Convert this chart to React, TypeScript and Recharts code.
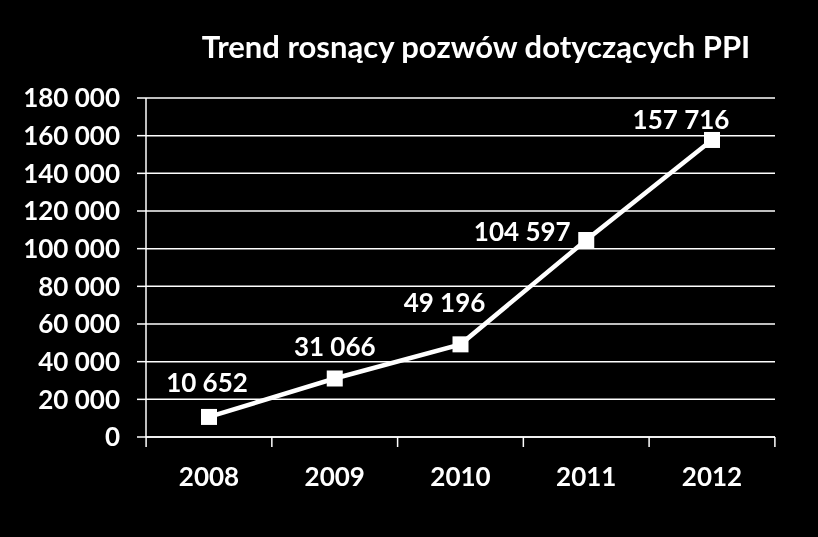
import React from "react";
import { LineChart, Line, XAxis, YAxis, CartesianGrid, LabelList } from "recharts";

const years = ["2008", "2009", "2010", "2011", "2012"];
const lawsuits = [10652, 31066, 49196, 104597, 157716];
const yTicks = [0, 20000, 40000, 60000, 80000, 100000, 120000, 140000, 160000, 180000];

const data = years.map((year, i) => ({ year, value: lawsuits[i] }));

const FONT = "Lato, 'Open Sans', sans-serif";

// "157716" -> "157 716"
const fmt = (v: number) => String(v).replace(/\B(?=(\d{3})+(?!\d))/g, " ");

// where each data label sits relative to its point (as in the original)
const labelShift = [
  { dx: -2, dy: -35 },
  { dx: 0, dy: -32 },
  { dx: -16, dy: -42 },
  { dx: -64, dy: -9 },
  { dx: -31, dy: -21 },
];

function SquareDot(props: any) {
  const { cx, cy } = props;
  if (cx == null || cy == null) return null;
  return <rect x={cx - 8} y={cy - 8} width={16} height={16} fill="#fff" />;
}

function ValueLabel(props: any) {
  const { x, y, value, index } = props;
  const s = labelShift[index] || { dx: 0, dy: -30 };
  return (
    <text
      x={x + s.dx}
      y={y + s.dy}
      fill="#fff"
      fontFamily={FONT}
      fontWeight={700}
      fontSize={26}
      textAnchor="middle"
      dominantBaseline="central"
    >
      {fmt(value)}
    </text>
  );
}

function YearTick(props: any) {
  const { x, y, payload, index, width, visibleTicksCount } = props;
  const half = width && visibleTicksCount ? width / visibleTicksCount / 2 : 62.9;
  return (
    <g>
      <line x1={x - half} x2={x - half} y1={y - 8} y2={y + 2} stroke="#fff" strokeWidth={1.5} />
      {index === visibleTicksCount - 1 && (
        <line x1={x + half} x2={x + half} y1={y - 8} y2={y + 2} stroke="#fff" strokeWidth={1.5} />
      )}
      <text
        x={x}
        y={y + 31}
        fill="#fff"
        fontFamily={FONT}
        fontWeight={700}
        fontSize={26}
        textAnchor="middle"
        dominantBaseline="central"
      >
        {payload.value}
      </text>
    </g>
  );
}

export default function App() {
  return (
    <div style={{ position: "fixed", left: 0, top: 0, width: 818, height: 537, background: "#000" }}>
      <div
        style={{
          position: "absolute",
          left: 0,
          top: 27,
          width: 952,
          textAlign: "center",
          color: "#fff",
          fontFamily: FONT,
          fontWeight: 700,
          fontSize: 31,
          lineHeight: "38px",
        }}
      >
        Trend rosnący pozwów dotyczących PPI
      </div>
      <LineChart width={818} height={537} data={data} margin={{ top: 98, right: 43, bottom: 70, left: 0 }}>
        <CartesianGrid vertical={false} stroke="#fff" strokeWidth={1.5} />
        <XAxis
          dataKey="year"
          height={30}
          padding={{ left: 63, right: 63 }}
          axisLine={{ stroke: "#fff", strokeWidth: 1.5 }}
          tickLine={false}
          tick={<YearTick />}
          interval={0}
        />
        <YAxis
          width={146}
          domain={[0, 180000]}
          ticks={yTicks}
          interval={0}
          tickFormatter={fmt}
          axisLine={{ stroke: "#fff", strokeWidth: 1.5 }}
          tickLine={{ stroke: "#fff", strokeWidth: 1.5 }}
          tickSize={9}
          tickMargin={17}
          tick={{ fill: "#fff", fontFamily: FONT, fontWeight: 700, fontSize: 26 }}
        />
        <Line
          dataKey="value"
          stroke="#fff"
          strokeWidth={4.5}
          dot={<SquareDot />}
          activeDot={false}
          isAnimationActive={false}
        >
          <LabelList dataKey="value" content={<ValueLabel />} />
        </Line>
      </LineChart>
    </div>
  );
}
